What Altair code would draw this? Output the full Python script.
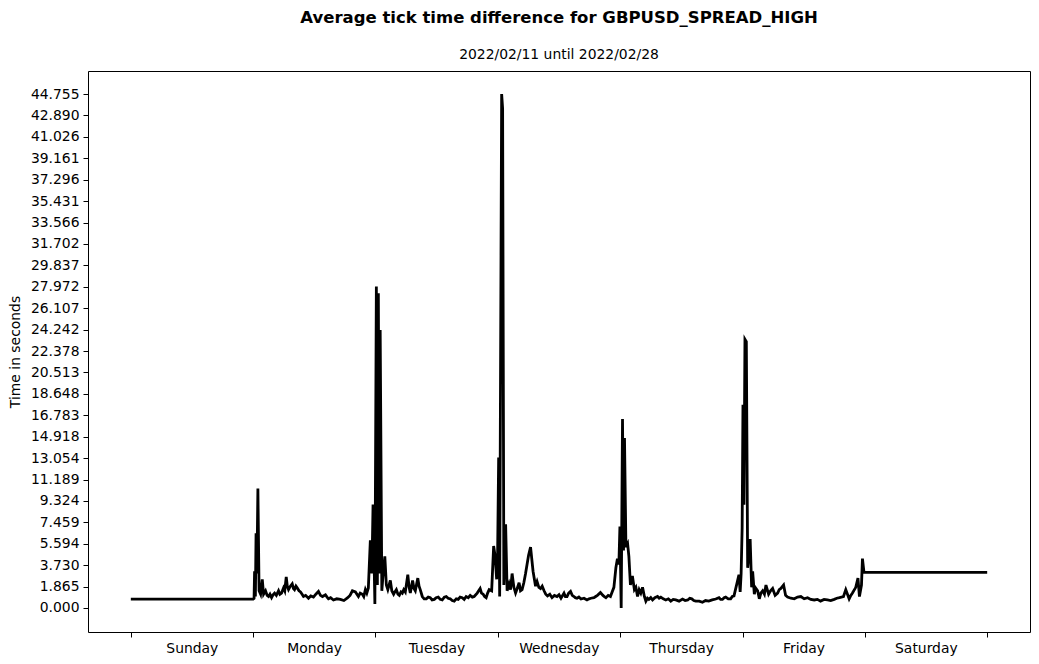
import altair as alt
import pandas as pd

# hours since Sunday 00:00
hours = [
    0.0, 24.0, 24.18, 24.28, 24.44, 24.57, 24.73, 24.93, 25.16, 25.46, 25.79, 26.04, 26.43,
    26.75, 27.02, 27.30, 27.61, 27.90, 28.20, 28.55, 28.98, 29.25, 29.57, 29.96, 30.20,
    30.49, 30.70, 30.94, 31.30, 31.66, 31.90, 32.11, 32.40, 32.64, 33.00, 33.29,
    33.60, 33.88, 34.30, 34.85, 35.30, 35.83, 36.30, 36.81, 37.20, 37.60, 38.18, 38.50,
    38.77, 39.20, 39.75, 40.40, 41.12, 41.80, 42.49, 43.00, 43.47, 44.06,
    44.65, 45.00, 45.43, 45.70, 46.02, 46.30, 46.60, 46.99, 47.29, 47.52, 47.88, 48.17,
    48.37, 48.56, 48.76, 48.92, 49.24, 49.54, 49.83, 50.13, 50.42, 50.91, 51.20, 51.56,
    51.80, 52.09, 52.40, 52.67, 53.00, 53.26, 53.55, 53.85, 54.34, 54.60, 54.83, 55.28,
    55.55, 55.81, 56.30, 56.55, 56.78, 57.18, 57.55, 57.96, 58.35, 58.74, 59.10, 59.53,
    59.90, 60.31, 60.70, 61.09, 61.50, 61.88, 62.25, 62.66, 63.05, 63.44, 63.85, 64.23,
    64.60, 65.01, 65.40, 65.79, 66.20, 66.58, 67.00, 67.36, 67.95, 68.53, 68.80, 69.12,
    69.40, 69.71, 70.00, 70.30, 70.79, 71.18, 71.47, 71.77, 71.96, 72.16, 72.36, 72.75,
    72.94, 73.18, 73.53, 73.82, 74.21, 74.50, 74.80, 75.15, 75.48, 75.80, 76.17, 76.45,
    76.76, 77.10, 77.44, 78.03, 78.42, 78.91, 79.40, 79.70, 80.05, 80.38, 80.70, 81.07,
    81.40, 81.75, 82.20, 82.63, 83.10, 83.61, 84.00, 84.39, 84.98, 85.25, 85.57, 85.90,
    86.26, 86.60, 86.94, 87.20, 87.53, 87.90, 88.31, 88.90, 89.49, 89.90, 90.27, 90.86,
    91.20, 91.54, 92.13, 92.62, 92.90, 93.21, 93.65, 94.09, 94.77, 95.16, 95.46, 95.75,
    95.95, 96.20, 96.46, 96.66, 96.85, 97.13, 97.46, 97.71, 98.01, 98.40, 98.79, 99.08,
    99.41, 99.73, 100.05, 100.39, 100.75, 101.04, 101.35, 101.63, 102.00, 102.35, 102.80,
    103.33, 103.65, 103.98, 104.45, 104.95, 105.45, 105.93, 106.40, 106.91, 107.55,
    108.23, 108.75, 109.26, 109.65, 110.05, 110.45, 110.83, 111.50, 112.14, 112.75,
    113.38, 114.05, 114.75, 115.39, 115.70, 116.06, 116.40, 116.70, 117.20, 117.68,
    118.00, 118.33, 118.99, 119.30, 119.54, 119.73, 119.93, 120.09, 120.28, 120.48,
    120.75, 121.01, 121.20, 121.50, 121.79, 121.99, 122.32, 122.57, 122.97, 123.30,
    123.60, 123.95, 124.30, 124.60, 125.12, 125.50, 125.91, 126.40, 126.89, 127.20,
    127.53, 128.06, 128.45, 128.84, 129.50, 130.15, 130.80, 131.45, 132.10, 132.76,
    133.40, 134.07, 134.70, 135.30, 136.00, 136.67, 137.30, 137.99, 138.50, 139.02,
    139.81, 140.26, 140.92, 141.25, 141.57, 142.22, 142.65, 142.94, 143.34, 143.53,
    143.83, 168.0,
]

seconds = [
    0.78, 0.78, 0.85, 3.2, 1.0, 6.5, 3.0, 10.4, 1.5, 1.2, 2.5, 1.2, 1.5,
    1.1, 1.0, 1.2, 0.9, 1.15, 1.3, 1.1, 1.5, 1.2, 1.3, 1.75, 1.5,
    2.7, 1.9, 1.6, 1.9, 2.1, 1.7, 1.6, 1.9, 1.75, 1.5, 1.4,
    1.2, 1.0, 1.1, 0.85, 1.05, 0.95, 1.2, 1.45, 1.1, 1.0, 1.15, 0.95,
    0.8, 0.9, 0.7, 0.8, 0.75, 0.65, 0.87, 1.1, 1.5, 1.4,
    1.0, 1.3, 1.2, 1.0, 1.6, 1.3, 1.75, 5.9, 3.0, 9.0, 0.35, 28.0,
    2.0, 27.4, 3.0, 24.2, 1.5, 3.2, 4.5, 2.0, 1.6, 2.4, 1.5, 1.2,
    1.4, 1.6, 1.2, 1.1, 1.4, 1.3, 1.6, 1.4, 2.9, 1.8, 1.3, 2.4,
    1.7, 1.5, 2.6, 1.9, 1.6, 1.0, 0.8, 0.8, 0.95, 0.9, 0.7, 0.75,
    0.9, 0.95, 0.75, 0.7, 0.95, 1.0, 0.85, 0.8, 0.65, 0.6, 0.8, 0.75,
    0.95, 0.9, 0.75, 1.0, 0.9, 1.1, 0.95, 1.0, 1.3, 1.7, 1.3, 1.2,
    1.0, 0.9, 1.3, 1.6, 1.5, 5.4, 4.5, 2.5, 4.8, 13.1, 1.0, 44.755,
    43.5, 2.0, 7.3, 1.5, 2.1, 1.6, 3.0, 1.8, 1.3, 1.7, 2.2, 1.5,
    1.6, 2.2, 3.0, 4.6, 5.3, 3.2, 1.9, 2.3, 1.8, 1.7, 1.9, 1.5,
    1.2, 1.05, 1.2, 0.9, 1.1, 1.0, 1.15, 0.85, 1.3, 1.0, 1.0, 1.3,
    1.45, 1.1, 1.0, 0.9, 0.85, 0.95, 0.78, 0.85, 0.7, 0.8, 0.85, 0.9,
    1.0, 1.1, 1.35, 1.1, 1.0, 0.9, 1.1, 1.0, 1.8, 3.5, 4.3, 3.8,
    7.1, 0.0, 16.45, 5.0, 14.8, 5.3, 5.6, 4.5, 2.0, 2.8, 1.6, 1.8,
    1.0, 1.6, 1.3, 1.8, 1.0, 0.6, 0.85, 0.75, 0.9, 0.7, 0.9,
    1.0, 0.85, 0.95, 0.8, 0.7, 0.8, 0.6, 0.75, 0.7, 0.6,
    0.78, 0.65, 0.7, 0.85, 0.8, 0.65, 0.6, 0.6, 0.5, 0.65,
    0.6, 0.7, 0.78, 0.9, 0.75, 0.75, 0.9, 0.95, 0.8, 0.8,
    1.0, 1.05, 2.3, 2.9, 1.4, 3.0, 7.0, 17.7, 9.0, 23.4,
    23.2, 3.5, 4.5, 6.0, 1.8, 3.2, 1.2, 1.75, 1.5, 0.8,
    1.3, 1.5, 1.2, 2.0, 1.2, 1.5, 1.7, 1.1, 1.3, 1.6,
    1.7, 2.0, 1.1, 0.95, 0.85, 0.8, 0.95, 1.0, 0.8, 0.9,
    0.75, 0.7, 0.75, 0.6, 0.75, 0.7, 0.65, 0.75, 0.85, 0.9,
    1.0, 1.6, 0.8, 1.1, 1.3, 1.8, 2.6, 1.0, 2.0, 4.3,
    3.1, 3.1,
]

day_names = ["Sunday", "Monday", "Tuesday", "Wednesday", "Thursday", "Friday", "Saturday"]
day_ticks = [0, 24, 48, 72, 96, 120, 144, 168]
y_ticks = [0.000, 1.865, 3.730, 5.594, 7.459, 9.324, 11.189, 13.054, 14.918, 16.783,
           18.648, 20.513, 22.378, 24.242, 26.107, 27.972, 29.837, 31.702, 33.566,
           35.431, 37.296, 39.161, 41.026, 42.890, 44.755]

df = pd.DataFrame({"hour": hours, "sec": seconds})

FONT = "DejaVu Sans"
names_js = "[" + ",".join("'" + d + "'" for d in day_names) + "]"

chart = alt.Chart(df).mark_line(color="black", strokeWidth=2.8).encode(
    x=alt.X(
        "hour:Q",
        scale=alt.Scale(domain=[-8.4, 176.4], nice=False, zero=False),
        axis=alt.Axis(
            values=day_ticks,
            title=None,
            grid=False,
            domain=False,
            tickColor="black",
            tickSize=5,
            labelPadding=4,
            labelOffset=61,
            labelExpr=f"datum.value < 168 ? {names_js}[datum.value / 24] : ''",
            labelFont=FONT,
            labelFontSize=13.9,
            labelColor="black",
            labelAlign="center",
        ),
    ),
    y=alt.Y(
        "sec:Q",
        scale=alt.Scale(domain=[-2.09, 46.76], nice=False, zero=False),
        axis=alt.Axis(
            values=y_ticks,
            format=".3f",
            title="Time in seconds",
            titleFont=FONT,
            titleFontSize=13.9,
            titleFontWeight="normal",
            titleColor="black",
            titlePadding=8,
            grid=False,
            domain=False,
            tickColor="black",
            tickSize=5,
            labelPadding=4,
            labelFont=FONT,
            labelFontSize=13.9,
            labelColor="black",
        ),
    ),
).properties(
    width=942,
    height=561,
    autosize=alt.AutoSizeParams(type="none"),
    padding={"left": 88, "top": 71, "right": 9, "bottom": 32},
    title=alt.TitleParams(
        text="Average tick time difference for GBPUSD_SPREAD_HIGH",
        subtitle="2022/02/11 until 2022/02/28",
        anchor="middle",
        font=FONT,
        fontSize=16.5,
        fontWeight="bold",
        color="black",
        subtitleFont=FONT,
        subtitleFontSize=13.9,
        subtitleColor="black",
        subtitlePadding=22,
        offset=9,
    ),
).configure(
    background="white"
).configure_view(
    stroke="black", strokeWidth=1
)

chart.save("out.html", embed_options={"renderer": "svg", "actions": False})
